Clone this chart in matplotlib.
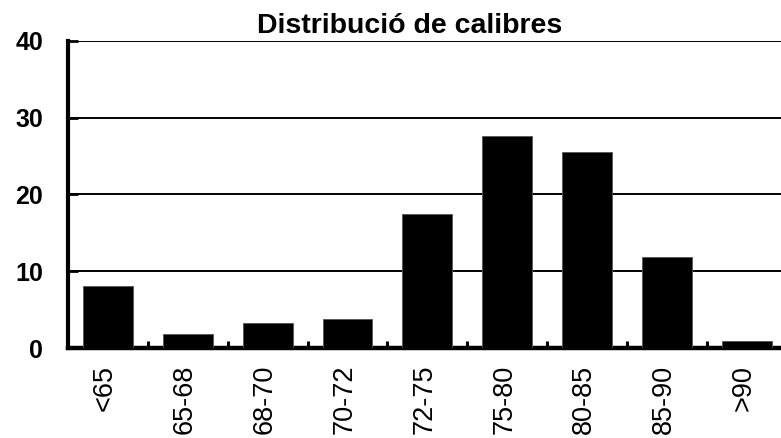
import matplotlib
matplotlib.use("Agg")
import matplotlib.pyplot as plt
import matplotlib.transforms as mtransforms
import numpy as np

# Size classes (calibre ranges) and number of fruits in each
calibres = ["<65", "65-68", "68-70", "70-72", "72-75", "75-80", "80-85", "85-90", ">90"]
counts = [8.1, 1.8, 3.2, 3.8, 17.5, 27.6, 25.5, 11.8, 0.9]
y_ticks = [0, 10, 20, 30, 40]

plt.rcParams["font.family"] = ["Liberation Sans", "DejaVu Sans"]

fig = plt.figure(figsize=(7.81, 4.38), dpi=100)
ax = fig.add_axes([68 / 781, 90 / 438, 718.6 / 781, 307.3 / 438])

x = np.arange(len(calibres))
ax.bar(x, counts, width=0.625, color="black", edgecolor="#555555",
       linewidth=0.6, zorder=3)

ax.set_xlim(-0.5, len(calibres) - 0.5)
ax.set_ylim(0, 40)
ax.set_yticks(y_ticks)
ax.set_yticklabels([str(v) for v in y_ticks], fontsize=18, fontweight="bold")

ax.set_xticks(x)
ax.set_xticklabels(calibres, rotation=90, fontsize=19.5, va="top")
ax.set_xticks(x[:-1] + 0.5, minor=True)
ax.tick_params(axis="x", which="major", length=0, pad=12)
ax.tick_params(axis="x", which="minor", direction="in", length=5, width=2.2)
ax.tick_params(axis="y", direction="in", length=7, width=2, pad=18)

# nudge the rotated category labels slightly to the left
shift = mtransforms.ScaledTranslation(-3 / 100, 0, fig.dpi_scale_trans)
for label in ax.get_xticklabels():
    label.set_transform(label.get_transform() + shift)

ax.yaxis.grid(True, color="black", linewidth=1.4, zorder=1)
ax.set_axisbelow(True)

for side in ["top", "right"]:
    ax.spines[side].set_visible(False)
ax.spines["left"].set_linewidth(3)
ax.spines["bottom"].set_linewidth(3.2)

fig.text(410 / 781, 405 / 438, "Distribució de calibres", ha="center",
         va="baseline", fontsize=20.5, fontweight="bold")

fig.savefig("out.png", dpi=100)
